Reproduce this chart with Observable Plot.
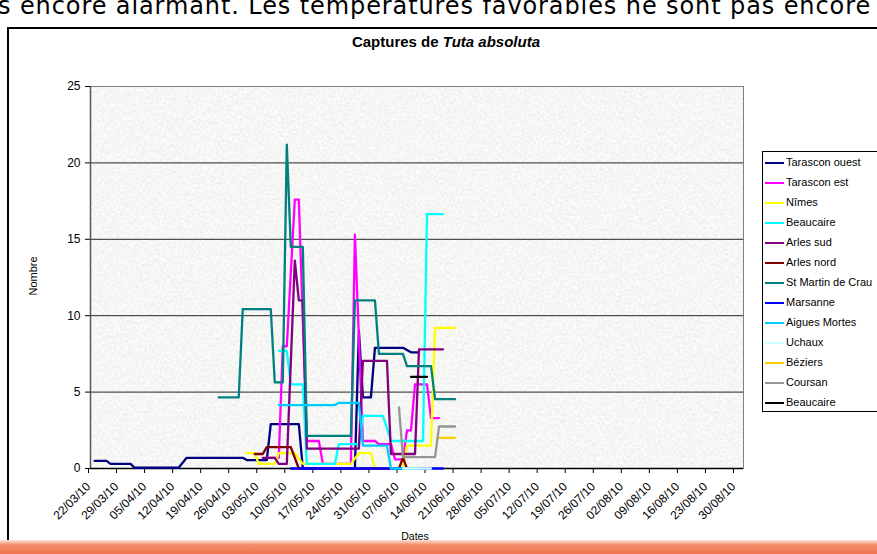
<!DOCTYPE html>
<html><head><meta charset="utf-8">
<script src="https://cdn.jsdelivr.net/npm/d3@7"></script>
<script src="https://cdn.jsdelivr.net/npm/@observablehq/plot@0.6"></script>
<style>
html,body{margin:0;padding:0;width:877px;height:554px;overflow:hidden;background:#fff;font-family:"Liberation Sans",Arial,sans-serif;}
#toptext{position:absolute;left:-2px;top:-6px;font-family:"DejaVu Sans",sans-serif;font-size:24px;line-height:24px;letter-spacing:0.9px;white-space:nowrap;color:#000;}
#box{position:absolute;left:7px;top:27px;width:900px;height:516px;border:2px solid #000;box-sizing:border-box;background:#fff;}
#strip{position:absolute;left:0;top:540px;width:877px;height:14px;background:linear-gradient(to bottom,#fde3d8 0%,#f48c6c 35%,#ef7352 100%);}
#chart{position:absolute;left:0;top:0;}
#title{position:absolute;left:246px;width:400px;top:33px;text-align:center;font-weight:bold;font-size:15px;}
#ylabel{position:absolute;left:33px;top:276px;transform:translate(-50%,-50%) rotate(-90deg);font-size:11px;white-space:nowrap;}
#xlabel{position:absolute;left:415px;top:530px;transform:translateX(-50%);font-size:10.5px;}
#legend{position:absolute;left:762px;top:151px;width:140px;height:259px;border:1px solid #000;background:#fff;}
.item{position:absolute;left:2px;height:20px;line-height:20px;white-space:nowrap;font-size:11px;}
.sw{display:inline-block;width:19px;height:2px;vertical-align:middle;margin-right:2px;}
</style>
</head><body>
<div id="toptext">s encore alarmant. Les températures favorables ne sont pas encore</div>
<div id="box"></div>
<div id="strip"></div>
<div id="chart"></div>
<div id="title">Captures de <i>Tuta absoluta</i></div>
<div id="ylabel">Nombre</div>
<div id="xlabel">Dates</div>
<div id="legend"></div>
<script>
// ---- data ----
const siteNames = ["Tarascon ouest","Tarascon est","Nîmes","Beaucaire","Arles sud","Arles nord","St Martin de Crau","Marsanne","Aigues Mortes","Uchaux","Béziers","Coursan","Beaucaire"];

const tarasconOuest = [["2010-03-23",0.5],["2010-03-26",0.5],["2010-03-27",0.3],["2010-04-01",0.3],["2010-04-02",0.05],["2010-04-13",0.05],["2010-04-15",0.7],["2010-04-29",0.7],["2010-04-30",0.55],["2010-05-05",0.55],["2010-05-06",2.9],["2010-05-13",2.9],["2010-05-14",0],["2010-05-27",0],["2010-05-28",9.0],["2010-05-29",4.65],["2010-05-31",4.65],["2010-06-01",7.9],["2010-06-08",7.9],["2010-06-10",7.6],["2010-06-12",7.6]];
const tarasconEst = [["2010-05-05",0.7],["2010-05-08",0.7],["2010-05-09",8.0],["2010-05-10",8.0],["2010-05-12",17.6],["2010-05-13",17.6],["2010-05-15",1.8],["2010-05-18",1.8],["2010-05-19",0.3],["2010-05-26",0.3],["2010-05-27",15.3],["2010-05-29",1.8],["2010-06-01",1.8],["2010-06-02",1.6],["2010-06-05",1.6],["2010-06-06",0.6],["2010-06-08",0.6],["2010-06-09",2.5],["2010-06-10",2.5],["2010-06-11",5.5],["2010-06-14",5.5],["2010-06-15",3.3],["2010-06-17",3.3]];
const nimes = [["2010-04-30",1.0],["2010-05-02",1.0],["2010-05-03",0.3],["2010-05-07",0.3],["2010-05-08",1.0],["2010-05-12",1.0],["2010-05-14",0.3],["2010-05-26",0.3],["2010-05-28",1.0],["2010-05-31",1.0],["2010-06-01",0],["2010-06-08",0],["2010-06-09",1.5],["2010-06-15",1.5],["2010-06-16",9.2],["2010-06-21",9.2]];
const beaucaire = [["2010-05-08",7.7],["2010-05-10",7.7],["2010-05-11",5.5],["2010-05-14",5.5],["2010-05-15",0.3],["2010-05-22",0.3],["2010-05-23",1.6],["2010-05-28",1.6],["2010-05-29",3.45],["2010-06-03",3.45],["2010-06-05",1.8],["2010-06-13",1.8],["2010-06-14",16.65],["2010-06-18",16.65]];
const arlesSud = [["2010-05-04",0.7],["2010-05-07",0.7],["2010-05-08",0.3],["2010-05-10",0.3],["2010-05-12",13.6],["2010-05-13",11.0],["2010-05-14",11.0],["2010-05-15",1.3],["2010-05-28",1.3],["2010-05-29",7.05],["2010-06-04",7.05],["2010-06-05",0.95],["2010-06-11",0.95],["2010-06-12",7.8],["2010-06-18",7.8]];
const arlesNord = [["2010-05-02",0.95],["2010-05-04",0.95],["2010-05-05",1.4],["2010-05-11",1.4],["2010-05-13",0],["2010-06-07",0],["2010-06-08",0.7],["2010-06-09",0]];
const stMartinDeCrau = [["2010-04-23",4.65],["2010-04-28",4.65],["2010-04-29",10.43],["2010-05-06",10.43],["2010-05-07",5.63],["2010-05-09",5.63],["2010-05-10",21.2],["2010-05-11",14.5],["2010-05-14",14.5],["2010-05-15",2.14],["2010-05-26",2.14],["2010-05-27",11.0],["2010-06-01",11.0],["2010-06-02",7.5],["2010-06-08",7.5],["2010-06-09",6.7],["2010-06-15",6.7],["2010-06-16",4.54],["2010-06-21",4.54]];
const marsanne = [["2010-05-11",0],["2010-05-24",0],["2010-06-07",0],["2010-06-18",0]];
const aiguesMortes = [["2010-05-08",4.15],["2010-05-22",4.15],["2010-05-23",4.3],["2010-05-28",4.3],["2010-05-29",1.5],["2010-06-04",1.5],["2010-06-05",0],["2010-06-12",0]];
const uchaux = [["2010-06-08",0],["2010-06-15",0]];
const beziers = [["2010-06-17",2.0],["2010-06-21",2.0]];
const coursan = [["2010-06-07",4.0],["2010-06-08",0.75],["2010-06-16",0.75],["2010-06-17",2.75],["2010-06-21",2.75]];
const beaucaire2 = [["2010-06-10",6.0],["2010-06-14",6.0]];

const seriesValues = [tarasconOuest,tarasconEst,nimes,beaucaire,arlesSud,arlesNord,stMartinDeCrau,marsanne,aiguesMortes,uchaux,beziers,coursan,beaucaire2];

const tickDates = ["2010-03-22","2010-03-29","2010-04-05","2010-04-12","2010-04-19","2010-04-26","2010-05-03","2010-05-10","2010-05-17","2010-05-24","2010-05-31","2010-06-07","2010-06-14","2010-06-21","2010-06-28","2010-07-05","2010-07-12","2010-07-19","2010-07-26","2010-08-02","2010-08-09","2010-08-16","2010-08-23","2010-08-30"];
const xDomain = ["2010-03-22","2010-09-01"];
const yTicks = [0,5,10,15,20,25];
const gridValues = [5,10,15,20];

// ---- styles ----
const siteColors = ["#000080","#FF00FF","#FFFF00","#00FFFF","#800080","#800000","#008080","#0000FF","#00CCFF","#CCFFFF","#FFCC00","#969696","#000000"];

const parse = s => new Date(s + "T00:00:00Z");

const lineMarks = seriesValues.map((vals, i) =>
  Plot.line(vals, {x: d => parse(d[0]), y: d => d[1], stroke: siteColors[i], strokeWidth: 2.3, strokeLinejoin: "round", strokeLinecap: "round"})
);

const chart = Plot.plot({
  width: 877, height: 554,
  marginLeft: 90, marginRight: 134, marginTop: 86, marginBottom: 86,
  style: {background: "none", fontFamily: "'Liberation Sans', Arial, sans-serif", fontSize: "12px", color: "#000"},
  x: {type: "utc", domain: xDomain.map(parse)},
  y: {domain: [0, 25]},
  marks: [
    Plot.frame({fill: "url(#granite)", stroke: "#808080"}),
    Plot.ruleY(gridValues, {stroke: "#000", strokeWidth: 1, strokeOpacity: 0.85}),
    Plot.ruleX([parse(xDomain[0])], {stroke: "#555", strokeWidth: 1.5}),
    Plot.ruleY([0], {stroke: "#000", strokeWidth: 1.5}),
    Plot.axisY(yTicks, {anchor: "left", tickSize: 5, tickPadding: 5, fontSize: 12, label: null}),
    Plot.axisX(tickDates.map(parse), {anchor: "bottom", tickSize: 5, tickPadding: 11, tickRotate: -45, textAnchor: "end", fontSize: 12, dx: -2, tickFormat: d3.utcFormat("%d/%m/%y"), label: null}),
    ...lineMarks
  ]
});

const svg = d3.select(chart);
const defs = svg.insert("defs", ":first-child");
const f = defs.append("filter").attr("id", "noise").attr("x", 0).attr("y", 0).attr("width", "100%").attr("height", "100%");
f.append("feTurbulence").attr("type", "fractalNoise").attr("baseFrequency", 0.45).attr("numOctaves", 2).attr("seed", 7).attr("result", "n");
f.append("feColorMatrix").attr("in", "n").attr("type", "matrix")
  .attr("values", "0.34 0 0 0 0.75  0.34 0 0 0 0.75  0.34 0 0 0 0.74  0 0 0 0 1");
const pat = defs.append("pattern").attr("id", "granite").attr("patternUnits", "userSpaceOnUse").attr("width", 877).attr("height", 554);
pat.append("rect").attr("width", 877).attr("height", 554).attr("filter", "url(#noise)");

document.getElementById("chart").appendChild(chart);

const legend = d3.select("#legend");
siteNames.forEach((name, i) => {
  const row = legend.append("div").attr("class", "item").style("top", (i * 20) + "px");
  row.append("span").attr("class", "sw").style("background", siteColors[i]);
  row.append("span").text(name);
});
</script>
</body></html>
